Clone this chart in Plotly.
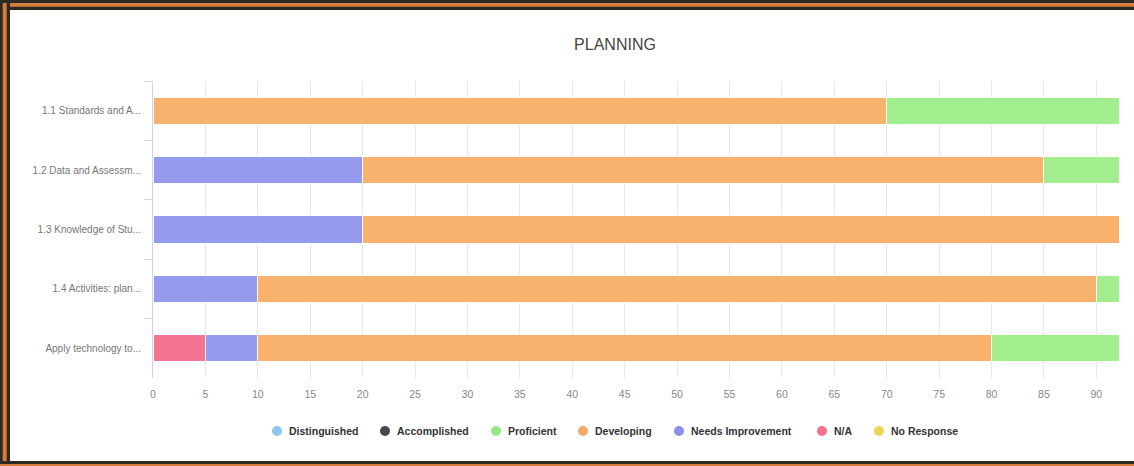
import plotly.graph_objects as go

# Rubric categories (labels as displayed, truncated)
categories = [
    "1.1 Standards and A...",
    "1.2 Data and Assessm...",
    "1.3 Knowledge of Stu...",
    "1.4 Activities: plan...",
    "Apply technology to...",
]

# Percent of responses per rating level
distinguished = [0, 0, 0, 0, 0]
accomplished = [0, 0, 0, 0, 0]
proficient = [30, 15, 0, 10, 20]
developing = [70, 65, 80, 80, 70]
needs_improvement = [0, 20, 20, 10, 5]
not_applicable = [0, 0, 0, 0, 5]
no_response = [0, 0, 0, 0, 0]

x_ticks = list(range(0, 95, 5))

# Series in legend order, with bar and legend-dot colours
series = [
    ("Distinguished", distinguished, "#8cc3f0", "#8cc3f0"),
    ("Accomplished", accomplished, "#46464b", "#46464b"),
    ("Proficient", proficient, "#a2ee8f", "#93ea80"),
    ("Developing", developing, "#f8b26e", "#f8a865"),
    ("Needs Improvement", needs_improvement, "#959aec", "#8c90ec"),
    ("N/A", not_applicable, "#f47592", "#f4708c"),
    ("No Response", no_response, "#e6d658", "#e6d658"),
]

W, H = 1134, 466
ML, MR, MT, MB = 153, 15, 81, 88
PW, PH = W - ML - MR, H - MT - MB

FONT = "Liberation Sans, Arial, Helvetica, sans-serif"

# Horizontal pixel position of each legend dot, and the legend row height
legend_dot_px = [277, 385, 496, 583, 679, 822, 879]
legend_row_px = 431

fig = go.Figure()

# Stacked bars: the last series in legend order sits nearest zero
for name, vals, bar_col, _ in reversed(series):
    fig.add_trace(go.Bar(
        y=categories, x=vals, name=name, orientation="h",
        marker=dict(color=bar_col, line=dict(color="white", width=1)),
        showlegend=False, hoverinfo="skip",
    ))


def px_x(px):
    return (px - ML) / PW


def px_y(py):
    return (H - MB - py) / PH


dark = "#2f2a21"
wood = "#d67d3c"
frame = [
    # top band
    (0, 0, W, 10, dark), (0, 3, W, 6.7, wood),
    # left band
    (0, 0, 10, H, dark), (2.7, 3, 6.7, H - 2, wood),
    # bottom band
    (0, H - 5, W, H, dark), (0, H - 2, W, H, wood),
]
shapes = []
for x0, y0, x1, y1, col in frame:
    shapes.append(dict(
        type="rect", xref="paper", yref="paper",
        x0=px_x(x0), x1=px_x(x1), y0=px_y(y1), y1=px_y(y0),
        fillcolor=col, line=dict(width=0), layer="above",
    ))

# Legend row: round dots followed by bold series names
annotations = []
r = 5
for (name, _, _, dot_col), cx in zip(series, legend_dot_px):
    shapes.append(dict(
        type="circle", xref="paper", yref="paper",
        x0=px_x(cx - r), x1=px_x(cx + r),
        y0=px_y(legend_row_px + r), y1=px_y(legend_row_px - r),
        fillcolor=dot_col, line=dict(width=0),
    ))
    annotations.append(dict(
        text=f"<b>{name}</b>", xref="paper", yref="paper",
        x=px_x(cx + 10), y=px_y(legend_row_px), xanchor="left", yanchor="middle",
        showarrow=False, font=dict(family=FONT, size=10.5, color="#333333"),
    ))

fig.update_layout(
    width=W, height=H,
    margin=dict(l=ML, r=MR, t=MT, b=MB, pad=0),
    barmode="stack", bargap=0.545,
    showlegend=False,
    paper_bgcolor="white", plot_bgcolor="white",
    font=dict(family=FONT, color="#777777"),
    title=dict(
        text="PLANNING", x=px_x(615), xref="paper", xanchor="center",
        y=1 - 44 / H, yanchor="middle",
        font=dict(family=FONT, size=16, color="#444444"),
    ),
    xaxis=dict(
        range=[0, 92.16], tickvals=x_ticks, showgrid=True, gridcolor="#e8e8e8",
        gridwidth=1, zeroline=False, showline=False,
        ticks="outside", ticklen=6, tickcolor="rgba(0,0,0,0)",
        tickfont=dict(size=10.5, color="#888888"), fixedrange=True,
    ),
    yaxis=dict(
        autorange="reversed", showgrid=False, zeroline=False,
        showline=True, linecolor="#ccd6eb", linewidth=1,
        ticks="outside", tickson="boundaries", ticklen=8, tickcolor="#ccd6eb",
        ticklabelstandoff=9,
        tickfont=dict(size=10, color="#777777"), fixedrange=True,
    ),
    shapes=shapes,
    annotations=annotations,
)

fig.write_html("out.html", config={"displayModeBar": False})
